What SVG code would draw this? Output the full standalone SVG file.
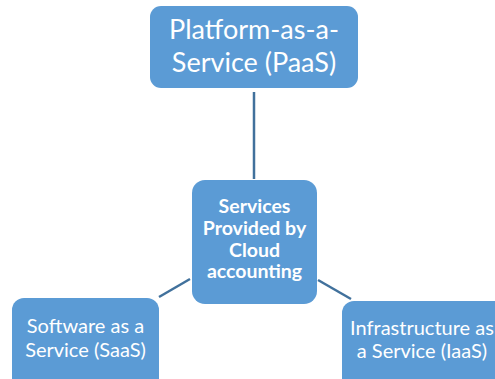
<svg xmlns="http://www.w3.org/2000/svg" width="495" height="379" viewBox="0 0 495 379">
<style>
.box{fill:#5B9BD5;}
.t{font-family:Lato,"Open Sans",sans-serif;fill:#fff;text-anchor:middle;}
.big{font-size:27px;}
.mid{font-size:19.5px;font-weight:bold;}
.sm{font-size:20px;}
.c{stroke:#41719C;stroke-width:2.5;fill:none;}
</style>
<rect width="495" height="379" fill="#fff"/>
<g id="connectors">
<line class="c" x1="254" y1="92" x2="254" y2="179"/>
<line class="c" x1="190" y1="279" x2="159" y2="297"/>
<line class="c" x1="318" y1="280" x2="351" y2="299"/>
</g>
<g id="paas">
<rect class="box" x="150" y="6" width="208" height="82" rx="11"/>
<text class="t big" x="254" y="39">Platform-as-a-</text>
<text class="t big" x="254" y="72">Service (PaaS)</text>
</g>
<g id="center">
<rect class="box" x="192" y="180" width="125" height="124" rx="13"/>
<text class="t mid" x="254.5" y="213">Services</text>
<text class="t mid" x="254.5" y="235">Provided by</text>
<text class="t mid" x="254.5" y="257">Cloud</text>
<text class="t mid" x="254.5" y="278">accounting</text>
</g>
<g id="saas">
<rect class="box" x="12" y="298" width="147" height="95" rx="12"/>
<text class="t sm" x="85.5" y="333">Software as a</text>
<text class="t sm" x="85.5" y="357">Service (SaaS)</text>
</g>
<g id="iaas">
<rect class="box" x="342" y="301" width="170" height="95" rx="12"/>
<text class="t sm" x="422" y="335">Infrastructure as</text>
<text class="t sm" x="422" y="358">a Service (IaaS)</text>
</g>
</svg>
